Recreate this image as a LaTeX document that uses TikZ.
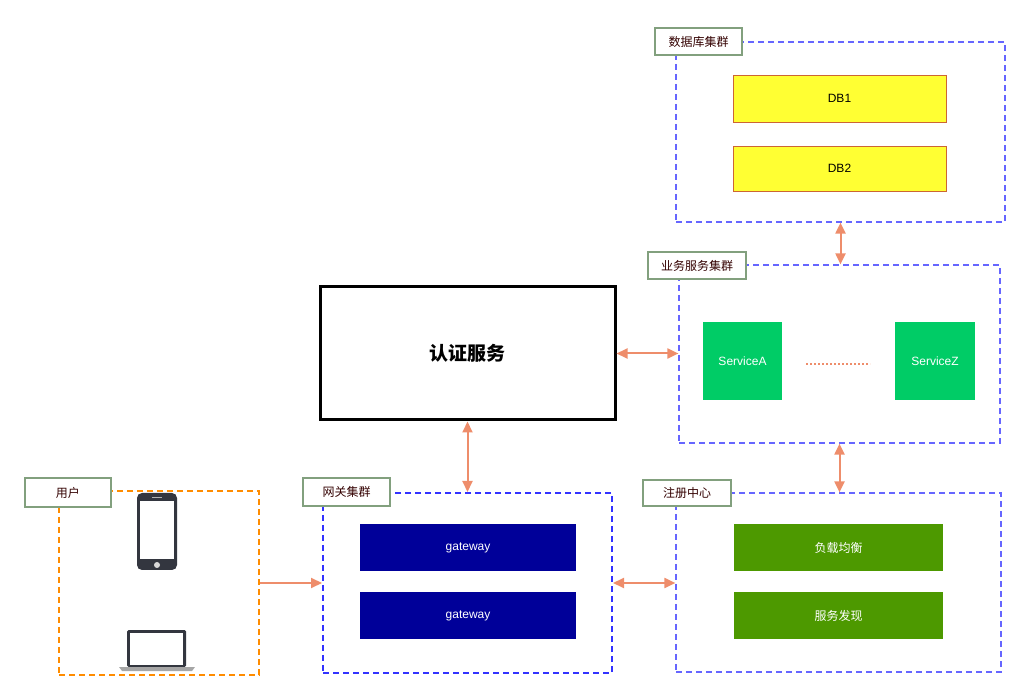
\documentclass[tikz,border=0pt]{standalone}
\usepackage{fontspec}
\setmainfont{Noto Sans CJK SC}
\newfontfamily\lat{Liberation Sans}
\usetikzlibrary{arrows.meta}
\definecolor{arr}{HTML}{EE8D6B}
\definecolor{lab}{HTML}{82A07E}
\definecolor{dash}{HTML}{6666FF}
\definecolor{dev}{HTML}{33363F}
\tikzset{
  lbl/.style={draw=lab,line width=1.3pt,fill=white,inner sep=0pt,font=\fontsize{12}{14}\selectfont,text=black!80!red},
  grp/.style={draw=dash,line width=1.2pt,dash pattern=on 6pt off 4pt,inner sep=0pt},
  box/.style={inner sep=0pt,font=\lat\fontsize{12}{14}\selectfont,text=white},
  cbox/.style={inner sep=0pt,font=\fontsize{12}{14}\selectfont,text=white},
  con/.style={draw=arr,line width=2pt,{Triangle[length=11pt,width=10pt]}-{Triangle[length=11pt,width=10pt]}},
  con1/.style={draw=arr,line width=2pt,-{Triangle[length=11pt,width=10pt]}},
}
\begin{document}
\begin{tikzpicture}[x=1pt,y=-1pt]
\useasboundingbox (0,0) rectangle (1029,700);
% groups
\node[grp,draw=orange!90!yellow,minimum width=200,minimum height=184] (ug) at (159,583) {};
\node[grp,draw=blue!80,line width=2pt,minimum width=289,minimum height=180] (gg) at (467.5,583) {};
\node[grp,minimum width=329,minimum height=180] (dbg) at (840.5,132) {};
\node[grp,minimum width=321,minimum height=178] (sg) at (839.5,354) {};
\node[grp,minimum width=325,minimum height=179] (rg) at (838.5,582.5) {};
% labels
\node[lbl,minimum width=86,minimum height=29] (ul) at (68,492.5) {用户};
\node[lbl,minimum width=87,minimum height=28] (gl) at (346.5,492) {网关集群};
\node[lbl,minimum width=87,minimum height=27] (dl) at (698.5,41.5) {数据库集群};
\node[lbl,minimum width=98,minimum height=27] (sl) at (697,265.5) {业务服务集群};
\node[lbl,minimum width=88,minimum height=26] (rl) at (687,493) {注册中心};
% auth
\node[draw,line width=3pt,minimum width=295,minimum height=133,font=\bfseries\fontsize{19}{21}\selectfont] (auth) at (467.5,353.5) {认证服务};
% gateways
\node[box,fill={rgb,255:red,0;green,0;blue,153},minimum width=216,minimum height=47] (g1) at (468,547.5) {gateway};
\node[box,fill={rgb,255:red,0;green,0;blue,153},minimum width=216,minimum height=47] (g2) at (468,615.5) {gateway};
% db
\node[box,text=black,fill={rgb,255:red,255;green,255;blue,51},draw={rgb,255:red,204;green,102;blue,51},minimum width=213,minimum height=47] (db1) at (839.5,98.5) {DB1};
\node[box,text=black,fill={rgb,255:red,255;green,255;blue,51},draw={rgb,255:red,204;green,102;blue,51},minimum width=213,minimum height=45] (db2) at (839.5,168.5) {DB2};
% services
\node[box,fill={rgb,255:red,0;green,204;blue,102},minimum width=79,minimum height=78] (sa) at (742.5,361) {ServiceA};
\node[box,fill={rgb,255:red,0;green,204;blue,102},minimum width=80,minimum height=78] (sz) at (935,361) {ServiceZ};
\draw[arr,line width=1.5pt,dash pattern=on 2pt off 2pt] (806,364) -- (870,364);
% registry
\node[cbox,fill={rgb,255:red,77;green,153;blue,0},minimum width=209,minimum height=47] (lb) at (838.5,547.5) {负载均衡};
\node[cbox,fill={rgb,255:red,77;green,153;blue,0},minimum width=209,minimum height=47] (sd) at (838.5,615.5) {服务发现};
% phone
\fill[dev,rounded corners=5pt] (137,493) rectangle (177,570);
\fill[white] (140,501) rectangle (174,559);
\fill[white!85!black] (157,565) circle (3);
\fill[white!70!black] (152,497) rectangle (162,498.5);
% laptop
\fill[dev,rounded corners=1.5pt] (127,630) rectangle (186,667);
\fill[white] (130,633) rectangle (183,665);
\fill[gray!70] (119,667) -- (195,667) -- (192,671) -- (122,671) -- cycle;
% connectors
\draw[con1] (ug.east |- 0,583) -- (gg.west |- 0,583);
\draw[con] (auth.south) -- (gg.north);
\draw[con] (auth.east) -- (sg.west |- auth.east);
\draw[con] (gg.east) -- (rg.west |- gg.east);
\draw[con] (dbg.south) -- (sg.north -| dbg.south);
\draw[con] (sg.south) -- (rg.north -| sg.south);
\end{tikzpicture}
\end{document}
